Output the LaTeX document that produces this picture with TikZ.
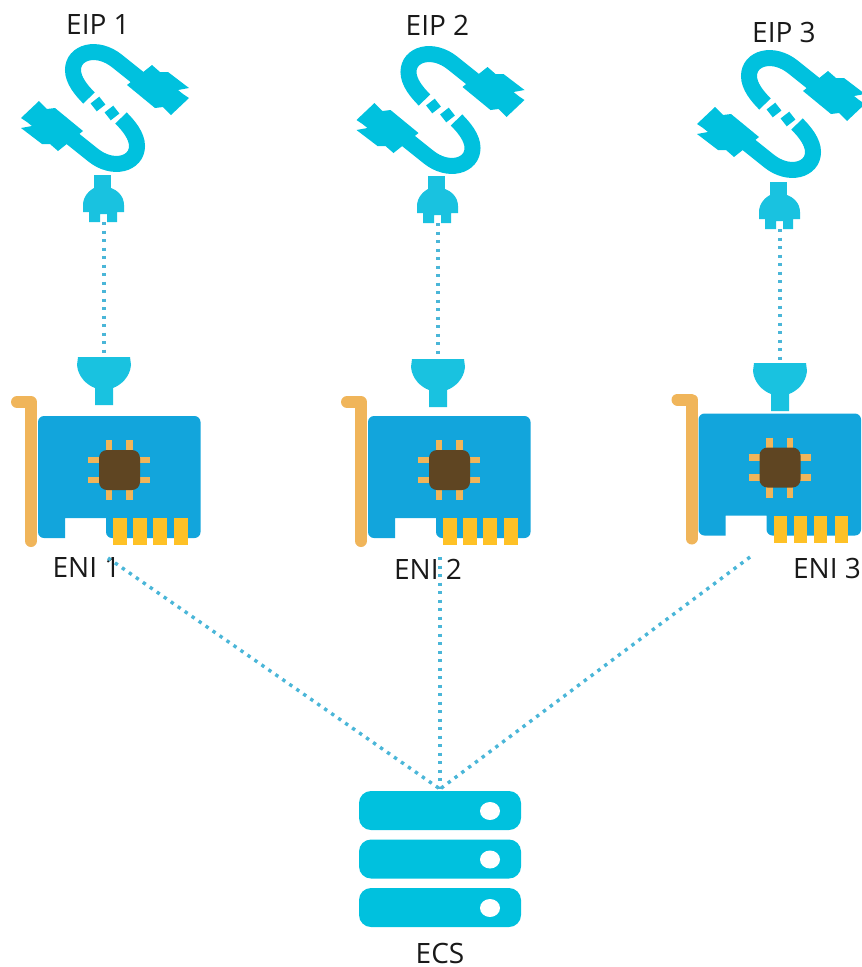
\documentclass[tikz,border=0pt]{standalone}
\usepackage{fontspec}
\setmainfont{Open Sans}
\usepackage{tikz}
\definecolor{eipblue}{HTML}{00C1DE}
\definecolor{plugblue}{HTML}{19C2E0}
\definecolor{cardblue}{HTML}{12A5DC}
\definecolor{dotblue}{HTML}{4AB6D8}
\definecolor{chipbrown}{HTML}{5F4522}
\definecolor{pingold}{HTML}{F0B55A}
\definecolor{fingergold}{HTML}{FEC126}
\tikzset{
  label text/.style={font=\fontsize{28}{28}\selectfont, text=black!90, inner sep=0pt},
  dotted link/.style={dotblue, line width=3.4pt, dash pattern=on 3.4pt off 5.1pt},
  chip pin/.style={pingold, line width=6.6pt},
  rack/.style={eipblue, rounded corners=12pt},
  eipicon/.pic={
    %%% cable, drawn twice since it is the same turned half way round
    \foreach \a in {0,180} {
      \begin{scope}[rotate around={\a:(105,108)}]
        \draw[eipblue, line width=16pt] (142,81) -- (117,61) .. controls (97,45) and (73,52) .. (73,70) .. controls (73,80) and (81,90) .. (89,98);
        \fill[eipblue] (127,85) -- (152,65) -- (160,72) -- (168,72) -- (189,88) -- (178,90) -- (183,94) -- (189,98) -- (171,115) -- (163,107) -- (155,108) -- cycle;
      \end{scope}
    }
    \fill[eipblue, rotate around={38:(98,104)}] (92.5,99) rectangle (103.5,109);
    \fill[eipblue, rotate around={38:(112,113)}] (106.5,108) rectangle (117.5,118);
  },
  plugicon/.pic={
    \fill[plugblue] (94,175) rectangle (111,192);
    \fill[plugblue] (83,205) .. controls (83,196) and (90,190) .. (94,188) -- (111,188) .. controls (117,190) and (124,196) .. (124,205) -- (124,212) -- (117,212) -- (117,222) -- (107,222) -- (107,214) -- (100,214) -- (100,222) -- (89,222) -- (89,212) -- (83,212) -- cycle;
    \coordinate (-bottom) at (104,222);
  },
  funnelicon/.pic={
    \fill[plugblue] (78,357) -- (130,357) -- (131,365) .. controls (130,377) and (121,385) .. (113,388) -- (113,405) -- (95,405) -- (95,388) .. controls (87,385) and (78,377) .. (77,365) -- cycle;
    \coordinate (-top) at (104,357);
  },
  eniicon/.pic={
    \draw[pingold, line width=12pt, line cap=round, line join=round] (17,402) -- (31,402) -- (31,541);
    \fill[cardblue, rounded corners=6pt] (38,416) -- (200.5,416) -- (200.5,538) -- (106,538) [sharp corners] -- (106,518) -- (65,518) -- (65,538) [rounded corners=6pt] -- (38,538) -- cycle;
    \foreach \i in {113,133,153,174} {
      \fill[fingergold] (\i,518) rectangle ++(13.5,27);
    }
    \foreach \i in {109,129.5} {
      \draw[chip pin] (\i,440) -- (\i,500);
    }
    \foreach \i in {460,480} {
      \draw[chip pin] (88,\i) -- (150,\i);
    }
    \fill[chipbrown, rounded corners=8pt] (99,450) rectangle (140,490);
  },
  ecsicon/.pic={
    \foreach \i in {791,839.5,888} {
      \fill[rack] (359,\i) rectangle (521,\i+39);
      \fill[white] (490,\i+20) ellipse (10pt and 9pt);
    }
    \coordinate (-top) at (440,789);
  }
}

\begin{document}
\begin{tikzpicture}[x=1pt, y=-1pt]
\useasboundingbox (0,0) rectangle (862,967);
%%% The icons in each column
\pic (eip1) at (0,0) {eipicon};
\pic (eip2) at (335.5,2) {eipicon};
\pic (eip3) at (676,6) {eipicon};
\pic (plug1) at (0,0) {plugicon};
\pic (plug2) at (334,1) {plugicon};
\pic (plug3) at (676,7) {plugicon};
\pic (funnel1) at (0,0) {funnelicon};
\pic (funnel2) at (334,2) {funnelicon};
\pic (funnel3) at (676,6) {funnelicon};
\pic (eni1) at (0,0) {eniicon};
\pic (eni2) at (330,0) {eniicon};
\pic (eni3) at (660.5,-2.5) {eniicon};
\pic (ecs) at (0,0) {ecsicon};
%%% The labels
\node[label text] (eiplabel1) at (98,25) {EIP 1};
\node[label text] (eiplabel2) at (437.5,25) {EIP 2};
\node[label text] (eiplabel3) at (784,32) {EIP 3};
\node[label text] (enilabel1) at (86.5,567) {ENI 1};
\node[label text] (enilabel2) at (428,569) {ENI 2};
\node[label text] (enilabel3) at (827,568) {ENI 3};
\node[label text] (ecslabel) at (440,953) {ECS};
%%% The free ends above the server
\coordinate (enifoot1) at (108,558);
\coordinate (enifoot2) at (440,557);
\coordinate (enifoot3) at (750,557);
%%% The edges between plug and funnel
\draw[dotted link] (plug1-bottom) -- (funnel1-top);
\draw[dotted link] (plug2-bottom) -- (funnel2-top);
\draw[dotted link] (plug3-bottom) -- (funnel3-top);
%%% The edges down to the server
\draw[dotted link] (enifoot1) -- (ecs-top);
\draw[dotted link] (enifoot2) -- (ecs-top);
\draw[dotted link] (enifoot3) -- (ecs-top);
\end{tikzpicture}
\end{document}
